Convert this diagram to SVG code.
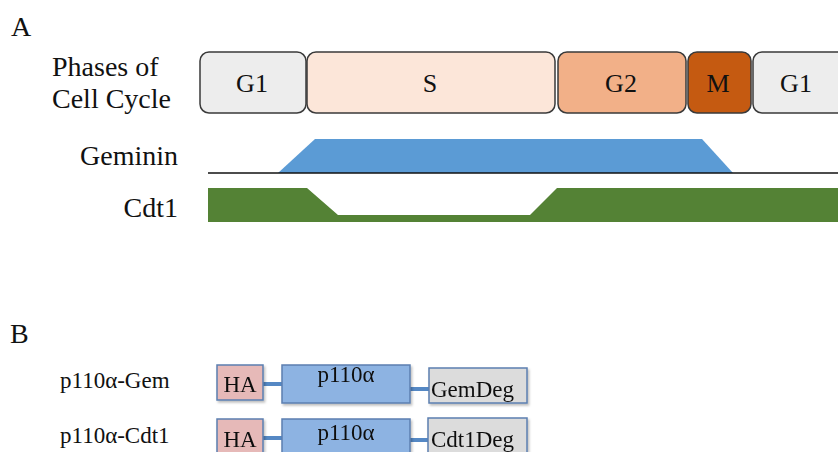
<svg xmlns="http://www.w3.org/2000/svg" width="838" height="452" viewBox="0 0 838 452">
<defs>
<style>
text{font-family:"Liberation Serif","Times New Roman",serif;fill:#111;}
.big{font-size:28px;}
.ph{font-size:26px;text-anchor:middle;}
.lbl{font-size:23px;}
.phase{stroke:#3a3a3a;stroke-width:1.5;}
.dom{stroke:#5b7fb0;stroke-width:1.5;}
.link{stroke:#5588c4;stroke-width:4;fill:none;}
</style>
<filter id="sh" x="-10%" y="-10%" width="130%" height="140%">
<feDropShadow dx="1.5" dy="2" stdDeviation="1.2" flood-color="#000" flood-opacity="0.25"/>
</filter>
</defs>
<rect width="838" height="452" fill="#fff"/>

<text class="big" x="11" y="36">A</text>
<text class="big" x="10" y="343">B</text>

<g id="row-labels">
<text class="big" x="52" y="76">Phases of</text>
<text class="big" x="52" y="108">Cell Cycle</text>
<text class="big" x="178" y="165" text-anchor="end">Geminin</text>
<text class="big" x="178" y="217" text-anchor="end">Cdt1</text>
</g>

<g id="phase-g1a"><rect class="phase" x="200" y="52" width="106" height="61" rx="9" fill="#ededed"/><text class="ph" x="252" y="92">G1</text></g>
<g id="phase-s"><rect class="phase" x="307" y="52" width="248" height="61" rx="9" fill="#fce6d9"/><text class="ph" x="430" y="92">S</text></g>
<g id="phase-g2"><rect class="phase" x="558" y="52" width="128" height="61" rx="9" fill="#f2b088"/><text class="ph" x="621" y="92">G2</text></g>
<g id="phase-m"><rect class="phase" x="688" y="52" width="63" height="61" rx="9" fill="#c55a11"/><text class="ph" x="718" y="92">M</text></g>
<g id="phase-g1b"><rect class="phase" x="753" y="52" width="110" height="61" rx="9" fill="#ededed"/><text class="ph" x="796" y="92">G1</text></g>

<g id="geminin">
<polygon points="278,173 315,139 702,139 733,173" fill="#5b9bd5"/>
<line x1="208" y1="173" x2="838" y2="173" stroke="#111" stroke-width="1.5"/>
</g>
<g id="cdt1">
<polygon points="208,188 307,188 338,215 530,215 557,188 838,188 838,222 208,222" fill="#548235"/>
</g>

<g id="construct-labels">
<text class="lbl" x="60" y="388">p110α-Gem</text>
<text class="lbl" x="60" y="443">p110α-Cdt1</text>
</g>

<g id="connectors">
<line class="link" x1="263" y1="384" x2="282" y2="384"/>
<line class="link" x1="410" y1="389" x2="429" y2="389"/>
<line class="link" x1="263" y1="438" x2="282" y2="438"/>
<line class="link" x1="410" y1="440" x2="428" y2="440"/>
</g>

<g id="gem-ha" filter="url(#sh)"><rect class="dom" x="217" y="365" width="46" height="35" fill="#e6b9b8"/><text class="lbl" x="240" y="392" text-anchor="middle">HA</text></g>
<g id="gem-p110" filter="url(#sh)"><rect class="dom" x="282" y="365" width="128" height="38" fill="#8db3e2"/><text class="lbl" x="346" y="382" text-anchor="middle">p110α</text></g>
<g id="gem-deg" filter="url(#sh)"><rect class="dom" x="429" y="368" width="98" height="35" fill="#dcdcdc"/><text class="lbl" x="431" y="397">GemDeg</text></g>

<g id="cdt-ha" filter="url(#sh)"><rect class="dom" x="217" y="419" width="46" height="36" fill="#e6b9b8"/><text class="lbl" x="240" y="447" text-anchor="middle">HA</text></g>
<g id="cdt-p110" filter="url(#sh)"><rect class="dom" x="282" y="419" width="128" height="38" fill="#8db3e2"/><text class="lbl" x="346" y="440" text-anchor="middle">p110α</text></g>
<g id="cdt-deg" filter="url(#sh)"><rect class="dom" x="428" y="418" width="99" height="37" fill="#dcdcdc"/><text class="lbl" x="431" y="447">Cdt1Deg</text></g>
</svg>
